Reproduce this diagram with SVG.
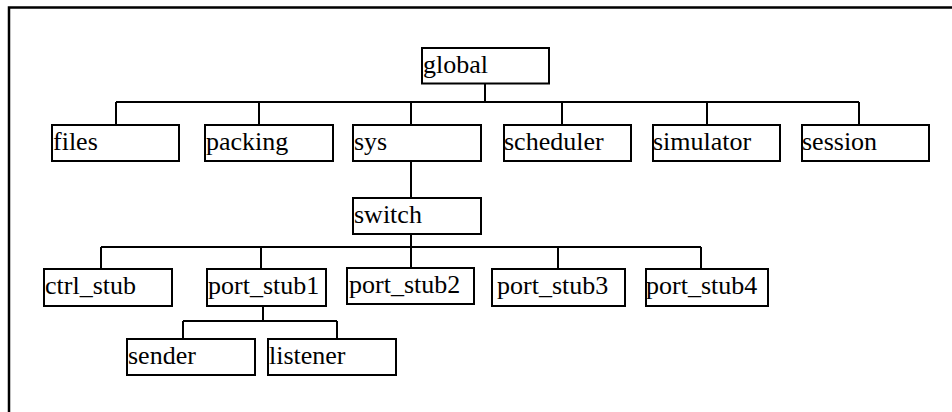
<svg xmlns="http://www.w3.org/2000/svg" width="952" height="412" viewBox="0 0 952 412">
<style>
.box{fill:#fff;stroke:#000;stroke-width:2}
text{font-family:'Liberation Serif','Times New Roman','DejaVu Serif',serif;font-size:26px;fill:#000}
.conn{stroke:#000;stroke-width:2;fill:none}
</style>
<rect x="0" y="0" width="952" height="412" fill="#fff"/>
<rect x="9" y="7.5" width="960" height="420" fill="none" stroke="#000" stroke-width="2.5"/>
<g id="connectors" class="conn">
<path d="M485 83.5V102M116 102H859M116 102V125M259 102V125M411 102V125M562 102V125M707 102V125M859 102V125"/>
<path d="M411 161V198M411 234V268M101 247H701M101 247V269M261 247V269M558 247V269M701 247V269"/>
<path d="M263 306V321M183 321H337M183 321V339M337 321V339"/>
</g>
<g id="global"><rect class="box" x="422" y="48" width="127" height="35.5"/><text font-family="Liberation Serif, serif" x="423" y="73">global</text></g>
<g id="files"><rect class="box" x="52" y="125" width="127" height="36"/><text font-family="Liberation Serif, serif" x="53" y="150">files</text></g>
<g id="packing"><rect class="box" x="205" y="125" width="128" height="36"/><text font-family="Liberation Serif, serif" x="206" y="150">packing</text></g>
<g id="sys"><rect class="box" x="353" y="125" width="128" height="36"/><text font-family="Liberation Serif, serif" x="354" y="150">sys</text></g>
<g id="scheduler"><rect class="box" x="504" y="125" width="127" height="36"/><text font-family="Liberation Serif, serif" x="504" y="150">scheduler</text></g>
<g id="simulator"><rect class="box" x="653" y="125" width="127" height="36"/><text font-family="Liberation Serif, serif" x="653" y="150">simulator</text></g>
<g id="session"><rect class="box" x="802" y="125" width="127" height="36"/><text font-family="Liberation Serif, serif" x="802" y="150">session</text></g>
<g id="switch"><rect class="box" x="353" y="198" width="128" height="36"/><text font-family="Liberation Serif, serif" x="354" y="223">switch</text></g>
<g id="ctrl_stub"><rect class="box" x="44" y="269" width="128" height="37"/><text font-family="Liberation Serif, serif" x="45" y="294">ctrl_stub</text></g>
<g id="port_stub1"><rect class="box" x="207" y="269" width="119" height="37"/><text font-family="Liberation Serif, serif" x="208" y="294">port_stub1</text></g>
<g id="port_stub2"><rect class="box" x="347" y="268" width="127" height="36"/><text font-family="Liberation Serif, serif" x="349" y="293">port_stub2</text></g>
<g id="port_stub3"><rect class="box" x="492" y="269" width="133" height="37"/><text font-family="Liberation Serif, serif" x="497" y="294">port_stub3</text></g>
<g id="port_stub4"><rect class="box" x="646" y="269" width="122" height="37"/><text font-family="Liberation Serif, serif" x="646" y="294">port_stub4</text></g>
<g id="sender"><rect class="box" x="127" y="339" width="128" height="36"/><text font-family="Liberation Serif, serif" x="128" y="364">sender</text></g>
<g id="listener"><rect class="box" x="268" y="339" width="128" height="36"/><text font-family="Liberation Serif, serif" x="269" y="364">listener</text></g>
</svg>
